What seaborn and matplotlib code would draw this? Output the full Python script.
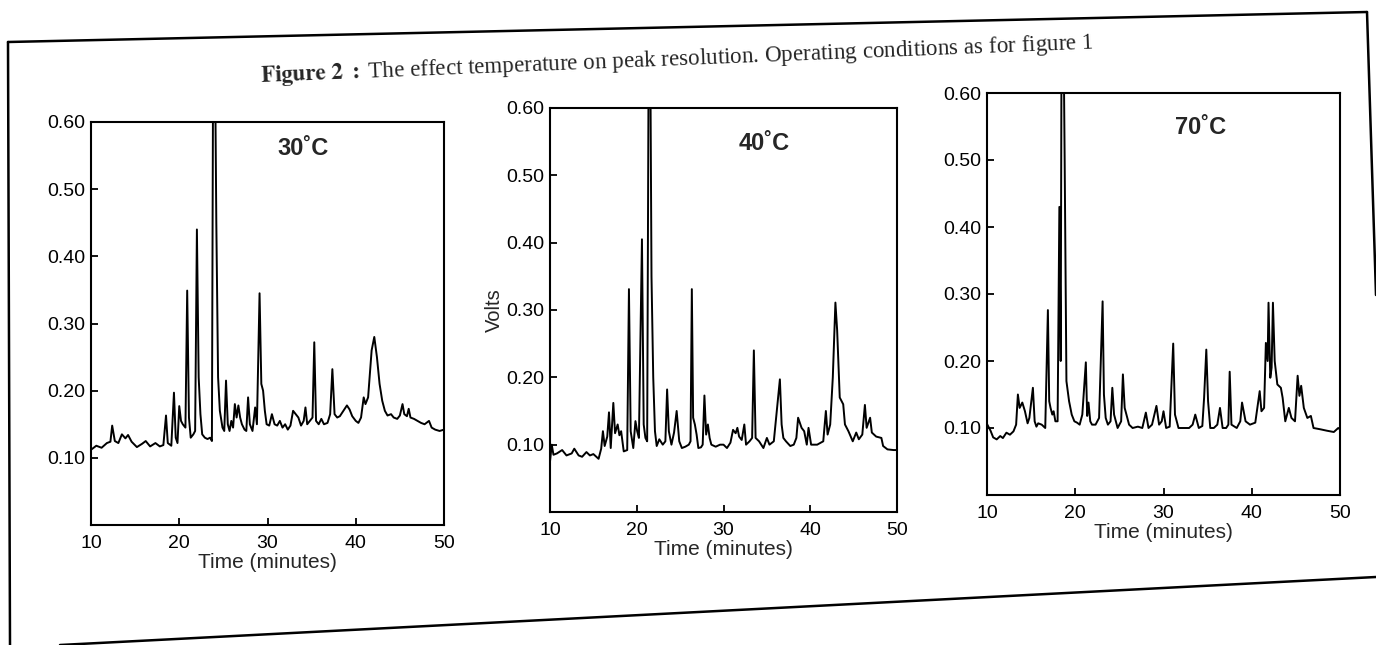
import matplotlib
matplotlib.use("Agg")
import matplotlib.pyplot as plt
import seaborn as sns
import pandas as pd
from matplotlib.lines import Line2D

# ---- chromatogram traces: time (minutes) / signal (volts)
time_30 = [10.0, 10.6, 11.2, 11.8, 12.2, 12.4, 12.7, 13.1, 13.5, 13.9,
           14.2, 14.6, 15.2, 15.8, 16.2, 16.7, 17.3, 17.8, 18.2, 18.5,
           18.7, 19.1, 19.4, 19.6, 19.8, 20.0, 20.2, 20.4, 20.7, 20.9,
           21.1, 21.3, 21.6, 21.8, 22.0, 22.2, 22.4, 22.6, 22.9, 23.2,
           23.5, 23.7, 23.9, 24.2, 24.4, 24.6, 24.9, 25.1, 25.3, 25.5,
           25.7, 25.9, 26.1, 26.3, 26.5, 26.7, 26.9, 27.1, 27.4, 27.6,
           27.8, 28.0, 28.3, 28.6, 28.8, 29.1, 29.3, 29.5, 29.7, 29.9,
           30.2, 30.5, 30.8, 31.1, 31.4, 31.7, 32.0, 32.3, 32.6, 32.9,
           33.2, 33.5, 33.8, 34.1, 34.3, 34.5, 34.8, 35.1, 35.3, 35.5,
           35.8, 36.1, 36.4, 36.8, 37.1, 37.35, 37.6, 37.9, 38.2, 38.6,
           39.0, 39.3, 39.6, 40.0, 40.3, 40.6, 40.9, 41.1, 41.4, 41.8,
           42.1, 42.4, 42.7, 43.0, 43.3, 43.6, 44.0, 44.3, 44.7, 45.0,
           45.3, 45.5, 45.8, 46.0, 46.2, 46.6, 47.0, 47.4, 47.8, 48.3,
           48.6, 49.0, 49.5, 50.0]
volts_30 = [0.112, 0.118, 0.115, 0.122, 0.124, 0.148, 0.125, 0.122, 0.135, 0.129,
            0.134, 0.124, 0.116, 0.121, 0.125, 0.117, 0.122, 0.117, 0.119, 0.163,
            0.122, 0.118, 0.197, 0.130, 0.122, 0.177, 0.155, 0.150, 0.145, 0.349,
            0.160, 0.130, 0.135, 0.140, 0.440, 0.220, 0.165, 0.135, 0.130, 0.128,
            0.130, 0.125, 0.950, 0.450, 0.220, 0.170, 0.145, 0.140, 0.215, 0.150,
            0.140, 0.155, 0.145, 0.180, 0.160, 0.178, 0.160, 0.150, 0.142, 0.140,
            0.190, 0.150, 0.140, 0.175, 0.150, 0.345, 0.210, 0.200, 0.170, 0.150,
            0.148, 0.165, 0.150, 0.148, 0.155, 0.145, 0.150, 0.142, 0.148, 0.170,
            0.165, 0.160, 0.148, 0.155, 0.175, 0.150, 0.155, 0.160, 0.272, 0.155,
            0.150, 0.158, 0.150, 0.152, 0.165, 0.232, 0.165, 0.160, 0.162, 0.170,
            0.178, 0.172, 0.162, 0.155, 0.152, 0.160, 0.190, 0.180, 0.190, 0.260,
            0.280, 0.250, 0.210, 0.185, 0.170, 0.163, 0.165, 0.160, 0.158, 0.163,
            0.180, 0.165, 0.162, 0.173, 0.160, 0.158, 0.155, 0.152, 0.150, 0.155,
            0.145, 0.142, 0.140, 0.142]

time_40 = [10.0, 10.2, 10.4, 10.8, 11.4, 11.9, 12.5, 12.8, 13.3, 13.7,
           14.2, 14.6, 15.0, 15.6, 15.9, 16.1, 16.3, 16.6, 16.8, 17.0,
           17.3, 17.5, 17.8, 18.0, 18.2, 18.5, 18.9, 19.1, 19.3, 19.6,
           19.85, 20.05, 20.25, 20.6, 20.8, 21.0, 21.2, 21.45, 21.7, 21.9,
           22.1, 22.3, 22.6, 23.0, 23.3, 23.5, 23.7, 24.0, 24.3, 24.6,
           24.9, 25.2, 25.6, 26.0, 26.2, 26.35, 26.5, 26.7, 26.9, 27.1,
           27.4, 27.6, 27.8, 28.0, 28.2, 28.4, 28.6, 29.1, 29.6, 30.0,
           30.4, 30.8, 31.1, 31.4, 31.6, 31.8, 32.1, 32.4, 32.6, 33.0,
           33.3, 33.5, 33.7, 34.1, 34.6, 35.0, 35.3, 35.8, 36.1, 36.5,
           36.7, 36.9, 37.2, 37.7, 38.1, 38.4, 38.6, 39.0, 39.3, 39.6,
           39.8, 40.1, 40.8, 41.5, 41.8, 42.0, 42.3, 42.6, 42.9, 43.1,
           43.4, 43.8, 44.0, 44.4, 44.9, 45.3, 45.6, 46.0, 46.3, 46.5,
           46.9, 47.1, 47.6, 48.2, 48.4, 48.9, 49.6, 50.0]
volts_40 = [0.075, 0.100, 0.085, 0.087, 0.092, 0.084, 0.087, 0.094, 0.084, 0.082,
            0.089, 0.084, 0.086, 0.079, 0.094, 0.120, 0.098, 0.112, 0.148, 0.095,
            0.162, 0.117, 0.130, 0.114, 0.120, 0.090, 0.092, 0.331, 0.120, 0.095,
            0.135, 0.120, 0.110, 0.405, 0.130, 0.110, 0.105, 0.950, 0.350, 0.200,
            0.120, 0.098, 0.108, 0.100, 0.105, 0.182, 0.120, 0.100, 0.118, 0.150,
            0.105, 0.095, 0.097, 0.100, 0.105, 0.331, 0.140, 0.130, 0.115, 0.095,
            0.096, 0.100, 0.173, 0.115, 0.130, 0.110, 0.100, 0.097, 0.100, 0.100,
            0.095, 0.103, 0.122, 0.117, 0.125, 0.112, 0.107, 0.130, 0.100, 0.105,
            0.110, 0.240, 0.110, 0.105, 0.095, 0.110, 0.100, 0.105, 0.145, 0.197,
            0.130, 0.110, 0.105, 0.098, 0.100, 0.110, 0.140, 0.125, 0.120, 0.100,
            0.125, 0.100, 0.100, 0.105, 0.150, 0.115, 0.130, 0.200, 0.311, 0.270,
            0.170, 0.160, 0.130, 0.120, 0.105, 0.118, 0.108, 0.115, 0.159, 0.125,
            0.140, 0.118, 0.112, 0.110, 0.098, 0.093, 0.092, 0.092]

time_70 = [10.0, 10.4, 10.7, 11.1, 11.5, 11.8, 12.2, 12.6, 13.0, 13.3,
           13.5, 13.7, 14.0, 14.3, 14.6, 14.8, 15.2, 15.4, 15.6, 15.8,
           16.2, 16.6, 16.9, 17.05, 17.2, 17.4, 17.55, 17.75, 18.0, 18.2,
           18.35, 18.5, 18.8, 19.0, 19.3, 19.6, 19.9, 20.2, 20.5, 20.8,
           21.2, 21.35, 21.5, 21.7, 21.9, 22.3, 22.7, 23.1, 23.25, 23.45,
           23.7, 24.0, 24.2, 24.4, 24.8, 25.2, 25.4, 25.6, 25.8, 26.1,
           26.5, 27.1, 27.6, 28.0, 28.3, 28.7, 29.2, 29.5, 29.8, 30.0,
           30.3, 30.7, 31.1, 31.3, 31.7, 32.3, 32.9, 33.3, 33.6, 34.0,
           34.4, 34.6, 34.85, 35.05, 35.3, 35.7, 36.1, 36.4, 36.7, 37.1,
           37.35, 37.5, 37.7, 38.3, 38.7, 38.9, 39.3, 39.8, 40.4, 40.9,
           41.1, 41.4, 41.6, 41.8, 41.9, 42.1, 42.25, 42.4, 42.6, 42.9,
           43.3, 43.5, 43.8, 44.2, 44.5, 44.9, 45.2, 45.4, 45.6, 45.9,
           46.3, 46.7, 47.0, 47.8, 48.5, 49.3, 49.8, 50.0]
volts_70 = [0.106, 0.096, 0.086, 0.083, 0.088, 0.085, 0.093, 0.090, 0.095, 0.105,
            0.150, 0.130, 0.138, 0.125, 0.107, 0.115, 0.160, 0.110, 0.102, 0.107,
            0.105, 0.100, 0.276, 0.140, 0.130, 0.120, 0.125, 0.110, 0.110, 0.430,
            0.200, 0.950, 0.500, 0.170, 0.140, 0.120, 0.110, 0.108, 0.105, 0.120,
            0.198, 0.118, 0.138, 0.110, 0.105, 0.105, 0.115, 0.289, 0.150, 0.115,
            0.105, 0.110, 0.160, 0.120, 0.100, 0.110, 0.180, 0.130, 0.120, 0.105,
            0.100, 0.102, 0.100, 0.123, 0.100, 0.105, 0.133, 0.105, 0.110, 0.125,
            0.100, 0.102, 0.226, 0.120, 0.100, 0.100, 0.100, 0.105, 0.120, 0.100,
            0.103, 0.145, 0.217, 0.140, 0.100, 0.100, 0.105, 0.130, 0.100, 0.100,
            0.105, 0.184, 0.105, 0.100, 0.110, 0.138, 0.110, 0.105, 0.108, 0.155,
            0.125, 0.130, 0.227, 0.200, 0.287, 0.175, 0.190, 0.287, 0.200, 0.165,
            0.160, 0.145, 0.110, 0.130, 0.115, 0.110, 0.178, 0.148, 0.163, 0.130,
            0.115, 0.118, 0.100, 0.098, 0.096, 0.094, 0.100, 0.098]

temps = ["30\u02daC", "40\u02daC", "70\u02daC"]
x_ticks = [10, 20, 30, 40, 50]
y_ticks = [0.10, 0.20, 0.30, 0.40, 0.50, 0.60]

sns.set_style("ticks")
plt.rcParams["font.family"] = ["Liberation Sans", "DejaVu Sans"]
plt.rcParams["mathtext.fontset"] = "stix"

W, H = 1376, 645
fig = plt.figure(figsize=(W / 100, H / 100), dpi=100)
fig.patch.set_facecolor("white")

# axes boxes in pixels: left, top, right, bottom
boxes = [(91, 122, 444, 525), (550, 108, 897, 512), (987, 93, 1340, 495)]
label_pos = [(0.60, 0.935), (0.617, 0.913), (0.606, 0.915)]
traces = [(time_30, volts_30), (time_40, volts_40), (time_70, volts_70)]

for i, ((l, t, r, b), (tt, vv), temp, (lx, ly)) in enumerate(zip(boxes, traces, temps, label_pos)):
    ax = fig.add_axes([l / W, 1 - b / H, (r - l) / W, (b - t) / H])
    df = pd.DataFrame({"time": tt, "volts": vv})
    sns.lineplot(data=df, x="time", y="volts", ax=ax, color="black",
                 lw=1.4, estimator=None, sort=False)
    ax.set_xlim(10, 50)
    ax.set_ylim(0, 0.6)
    ax.set_xticks(x_ticks)
    ax.set_yticks(y_ticks)
    ax.set_yticklabels([f"{v:.2f}" for v in y_ticks])
    ax.tick_params(axis="both", direction="in", length=5, width=1.3,
                   labelsize=14, colors="black")
    ax.tick_params(axis="x", pad=7)
    ax.tick_params(axis="y", pad=4)
    ax.set_xlabel("Time (minutes)", fontsize=15, labelpad=1)
    ax.set_ylabel("Volts" if i == 1 else "", fontsize=14.5, labelpad=2)
    for s in ax.spines.values():
        s.set_linewidth(1.5)
        s.set_color("black")
    ax.text(lx, ly, temp, transform=ax.transAxes, fontsize=17,
            fontweight="bold", ha="center", va="center")

# figure title, slightly tilted like the scanned page
fig.text(677 / W, 1 - 60 / H,
         r"$\mathbf{Figure\ 2\ :}$ The effect temperature on peak resolution. "
         "Operating conditions as for figure 1",
         family=["Liberation Serif", "DejaVu Serif"], fontsize=16.6,
         ha="center", va="center", rotation=2.3)

# outer frame of the printed figure
frame = [((8, 42), (1367, 12)), ((8, 42), (10, 645)),
         ((60, 645), (1376, 577)), ((1367, 12), (1376, 295))]
for (x0, y0), (x1, y1) in frame:
    fig.add_artist(Line2D([x0 / W, x1 / W], [1 - y0 / H, 1 - y1 / H],
                          transform=fig.transFigure, color="black", lw=1.8))

fig.savefig("out.png", dpi=100)
